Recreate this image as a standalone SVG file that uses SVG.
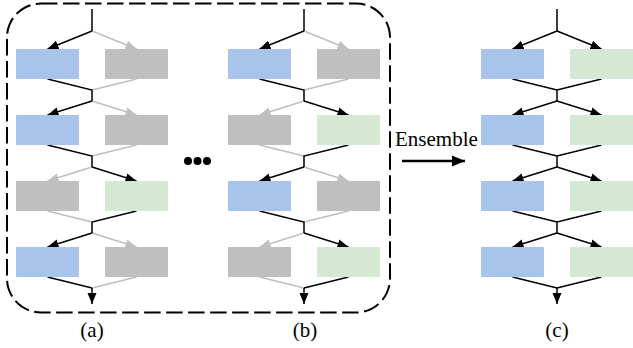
<svg xmlns="http://www.w3.org/2000/svg" width="633" height="348" viewBox="0 0 633 348">
<defs>
<style>
.blue{fill:#a9c4eb}
.gray{fill:#bfbfbf}
.green{fill:#d5e8d4}
.k{stroke:#000;stroke-width:1.5;fill:none}
.g{stroke:#bfbfbf;stroke-width:1.5;fill:none}
.ka{stroke:#000;stroke-width:1.5;fill:none;marker-end:url(#ak)}
.ga{stroke:#bfbfbf;stroke-width:1.5;fill:none;marker-end:url(#ag)}
</style>
<marker id="ak" markerUnits="userSpaceOnUse" markerWidth="12" markerHeight="10" viewBox="0 0 12 10" refX="11" refY="5" orient="auto"><path d="M0,0.5 L11,5 L0,9.5 Z" fill="#000"/></marker>
<marker id="ag" markerUnits="userSpaceOnUse" markerWidth="12" markerHeight="10" viewBox="0 0 12 10" refX="11" refY="5" orient="auto"><path d="M0,0.5 L11,5 L0,9.5 Z" fill="#bfbfbf"/></marker>
<marker id="akb" markerUnits="userSpaceOnUse" markerWidth="14" markerHeight="12" viewBox="0 0 14 12" refX="13" refY="6" orient="auto"><path d="M0,0.5 L13,6 L0,11.5 Z" fill="#000"/></marker>
</defs>
<rect width="633" height="348" fill="#fff"/>
<rect x="7" y="3.5" width="383" height="309" rx="34" ry="34" fill="none" stroke="#000" stroke-width="2" stroke-dasharray="16.5 5.5"/>
<g id="connectors">
<path class="ga" d="M92,31 L136.5,49"/>
<path class="g" d="M136.5,79 L92,90"/>
<path class="ga" d="M92,101 L136.5,115"/>
<path class="g" d="M136.5,145 L92,156"/>
<path class="ga" d="M92,167 L47.5,181"/>
<path class="g" d="M47.5,211 L92,222"/>
<path class="ga" d="M92,233 L136.5,247"/>
<path class="g" d="M136.5,277 L92,288"/>
<path class="k" d="M92,9 L92,31"/>
<path class="ka" d="M92,31 L47.5,49"/>
<path class="k" d="M47.5,79 L92,90 L92,101"/>
<path class="ka" d="M92,101 L47.5,115"/>
<path class="k" d="M47.5,145 L92,156 L92,167"/>
<path class="ka" d="M92,167 L136.5,181"/>
<path class="k" d="M136.5,211 L92,222 L92,233"/>
<path class="ka" d="M92,233 L47.5,247"/>
<path class="k" d="M47.5,277 L92,288"/>
<path class="ka" d="M92,288 L92,304"/>
<path class="ga" d="M304,31 L348.5,49"/>
<path class="g" d="M348.5,79 L304,90"/>
<path class="ga" d="M304,101 L259.5,115"/>
<path class="g" d="M259.5,145 L304,156"/>
<path class="ga" d="M304,167 L348.5,181"/>
<path class="g" d="M348.5,211 L304,222"/>
<path class="ga" d="M304,233 L259.5,247"/>
<path class="g" d="M259.5,277 L304,288"/>
<path class="k" d="M304,9 L304,31"/>
<path class="ka" d="M304,31 L259.5,49"/>
<path class="k" d="M259.5,79 L304,90 L304,101"/>
<path class="ka" d="M304,101 L348.5,115"/>
<path class="k" d="M348.5,145 L304,156 L304,167"/>
<path class="ka" d="M304,167 L259.5,181"/>
<path class="k" d="M259.5,211 L304,222 L304,233"/>
<path class="ka" d="M304,233 L348.5,247"/>
<path class="k" d="M348.5,277 L304,288"/>
<path class="ka" d="M304,288 L304,304"/>
<path class="k" d="M557,9 L557,31"/>
<path class="ka" d="M557,31 L512.5,49"/>
<path class="ka" d="M557,31 L601.5,49"/>
<path class="k" d="M512.5,79 L557,90 L601.5,79 M557,90 L557,101"/>
<path class="ka" d="M557,101 L512.5,115"/>
<path class="ka" d="M557,101 L601.5,115"/>
<path class="k" d="M512.5,145 L557,156 L601.5,145 M557,156 L557,167"/>
<path class="ka" d="M557,167 L512.5,181"/>
<path class="ka" d="M557,167 L601.5,181"/>
<path class="k" d="M512.5,211 L557,222 L601.5,211 M557,222 L557,233"/>
<path class="ka" d="M557,233 L512.5,247"/>
<path class="ka" d="M557,233 L601.5,247"/>
<path class="k" d="M512.5,277 L557,288 L601.5,277"/>
<path class="ka" d="M557,288 L557,304"/>
<path d="M402,161 L465,161" stroke="#000" stroke-width="2.5" fill="none" marker-end="url(#akb)"/>
</g>
<g id="col-a">
<rect id="a1l" class="blue" x="16" y="49" width="63" height="30"/>
<rect id="a1r" class="gray" x="105" y="49" width="63" height="30"/>
<rect id="a2l" class="blue" x="16" y="115" width="63" height="30"/>
<rect id="a2r" class="gray" x="105" y="115" width="63" height="30"/>
<rect id="a3l" class="gray" x="16" y="181" width="63" height="30"/>
<rect id="a3r" class="green" x="105" y="181" width="63" height="30"/>
<rect id="a4l" class="blue" x="16" y="247" width="63" height="30"/>
<rect id="a4r" class="gray" x="105" y="247" width="63" height="30"/>
</g>
<g id="col-b">
<rect id="b1l" class="blue" x="228" y="49" width="63" height="30"/>
<rect id="b1r" class="gray" x="317" y="49" width="63" height="30"/>
<rect id="b2l" class="gray" x="228" y="115" width="63" height="30"/>
<rect id="b2r" class="green" x="317" y="115" width="63" height="30"/>
<rect id="b3l" class="blue" x="228" y="181" width="63" height="30"/>
<rect id="b3r" class="gray" x="317" y="181" width="63" height="30"/>
<rect id="b4l" class="gray" x="228" y="247" width="63" height="30"/>
<rect id="b4r" class="green" x="317" y="247" width="63" height="30"/>
</g>
<g id="col-c">
<rect id="c1l" class="blue" x="481" y="49" width="63" height="30"/>
<rect id="c1r" class="green" x="570" y="49" width="63" height="30"/>
<rect id="c2l" class="blue" x="481" y="115" width="63" height="30"/>
<rect id="c2r" class="green" x="570" y="115" width="63" height="30"/>
<rect id="c3l" class="blue" x="481" y="181" width="63" height="30"/>
<rect id="c3r" class="green" x="570" y="181" width="63" height="30"/>
<rect id="c4l" class="blue" x="481" y="247" width="63" height="30"/>
<rect id="c4r" class="green" x="570" y="247" width="63" height="30"/>
</g>
<g id="dots" fill="#000">
<circle cx="188" cy="161" r="4"/>
<circle cx="197.5" cy="161" r="4"/>
<circle cx="207" cy="161" r="4"/>
</g>
<g id="labels" font-family="'Liberation Serif', 'Times New Roman', serif" font-size="21" fill="#000">
<text x="395" y="146">Ensemble</text>
<text x="92" y="337" text-anchor="middle">(a)</text>
<text x="305" y="337" text-anchor="middle">(b)</text>
<text x="557" y="337" text-anchor="middle">(c)</text>
</g>
</svg>
